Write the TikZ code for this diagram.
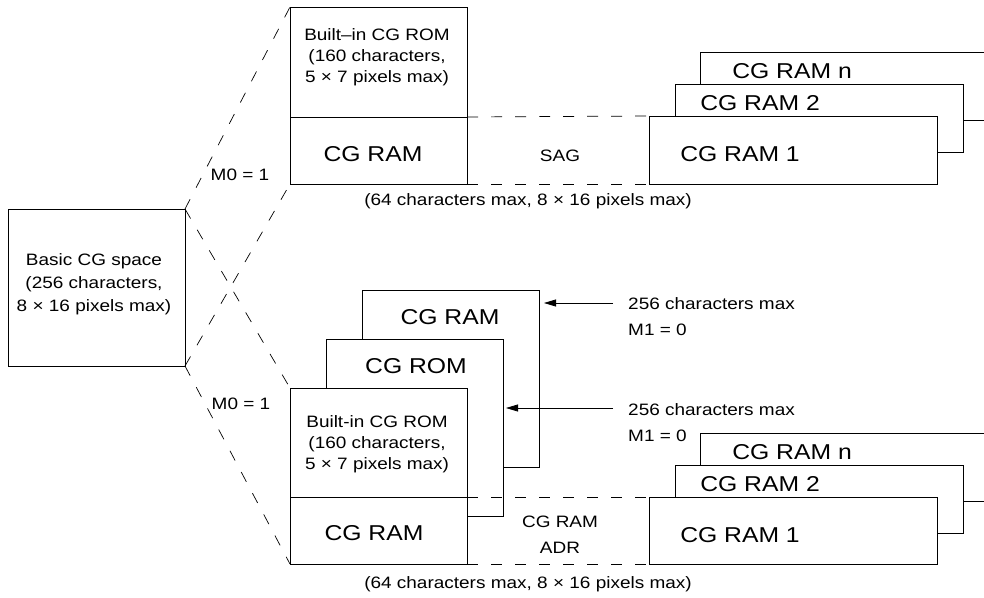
\documentclass[tikz,border=0pt]{standalone}
\usepackage{fontspec}
\setmainfont[FakeStretch=1.15]{Liberation Sans}
\usetikzlibrary{arrows.meta}
\newcommand\mkbox[5]{\node[box, anchor=north west, minimum width=#4, minimum height=#5] (#1) at (#2,#3) {};}
\tikzset{
  box/.style={draw, line width=0.9pt, fill=white, inner sep=0pt, outer sep=0pt},
  dashlink/.style={draw, line width=0.7pt, dash pattern=on 11pt off 13pt},
  arr/.style={draw, line width=0.8pt, -{Triangle[length=12pt,width=7pt]}},
  small/.style={font=\fontsize{16.5}{21}\selectfont, inner sep=0pt, align=center},
  large/.style={font=\fontsize{21.5}{26}\selectfont, inner sep=0pt},
}
\begin{document}
\begin{tikzpicture}[x=1pt,y=-1pt]
\useasboundingbox[fill=white] (0,0) rectangle (984,597);

% basic CG space
\mkbox{basic}{8}{209}{177}{157}
% top group
\mkbox{trom}{290}{7}{177}{110}
\mkbox{tram}{290}{117}{177}{67}
\mkbox{tn}{700}{52}{288}{68}
\mkbox{ttwo}{675}{84}{288}{68}
\mkbox{tone}{649}{116}{288}{68}
% lower group
\mkbox{lram}{362}{290}{177}{177}
\mkbox{lrom}{326}{339}{177}{177}
\mkbox{brom}{290}{388}{177}{109}
\mkbox{bram}{290}{497}{177}{67}
\mkbox{bn}{700}{433}{288}{68}
\mkbox{btwo}{675}{465}{288}{68}
\mkbox{bone}{649}{497}{288}{67}

% dashed connectors
\draw[dashlink] (basic.north east) -- (trom.north west);
\draw[dashlink] (basic.south east) -- (tram.south west);
\draw[dashlink] (basic.north east) -- (brom.north west);
\draw[dashlink] (basic.south east) -- (bram.south west);
\draw[dashlink] (trom.south east) -- (tone.north west);
\draw[dashlink] (tram.south east) -- (tone.south west);
\draw[dashlink] (brom.south east) -- (bone.north west);
\draw[dashlink] (bram.south east) -- (bone.south west);

% arrows
\coordinate (aone) at (613,303);
\coordinate (atwo) at (613,408);
\draw[arr, shorten >=5pt] (aone) -- (aone -| lram.east);
\draw[arr, shorten >=3pt] (atwo) -- (atwo -| lrom.east);

% texts
\node[small, font=\fontsize{16.5}{23}\selectfont] (basictxt) at (94,284) {Basic CG space\\(256 characters,\\8 × 16 pixels max)};
\node[small] (tromtxt) at (377,57) {Built–in CG ROM\\(160 characters,\\5 × 7 pixels max)};
\node[large, anchor=base] (tramtxt) at (373,161) {CG RAM};
\node[small, anchor=base] (sag) at (560,161) {SAG};
\node[large, anchor=base] (tonetxt) at (740,161) {CG RAM 1};
\node[large, anchor=base] (ttwotxt) at (760,110) {CG RAM 2};
\node[large, anchor=base] (tntxt) at (792,78) {CG RAM n};
\node[small, anchor=base] (mtop) at (240,180) {M0 = 1};
\node[small, anchor=base] (toplbl) at (528,205) {(64 characters max, 8 × 16 pixels max)};

\node[large, anchor=base] (lramtxt) at (450,324) {CG RAM};
\node[large, anchor=base] (lromtxt) at (416,373) {CG ROM};
\node[small] (bromtxt) at (377,444) {Built-in CG ROM\\(160 characters,\\5 × 7 pixels max)};
\node[large, anchor=base] (bramtxt) at (374,540) {CG RAM};
\node[small, anchor=base] (mbot) at (241,409) {M0 = 1};
\node[small, font=\fontsize{16.5}{26}\selectfont] (adr) at (560,535) {CG RAM\\ADR};
\node[large, anchor=base] (bonetxt) at (740,542) {CG RAM 1};
\node[large, anchor=base] (btwotxt) at (760,491) {CG RAM 2};
\node[large, anchor=base] (bntxt) at (792,459) {CG RAM n};
\node[small, anchor=base] (botlbl) at (528,588) {(64 characters max, 8 × 16 pixels max)};

\node[small, anchor=base west] (cone) at (628,309) {256 characters max};
\node[small, anchor=base west] (mone) at (628,335) {M1 = 0};
\node[small, anchor=base west] (ctwo) at (628,415) {256 characters max};
\node[small, anchor=base west] (mtwo) at (628,441) {M1 = 0};
\end{tikzpicture}
\end{document}
